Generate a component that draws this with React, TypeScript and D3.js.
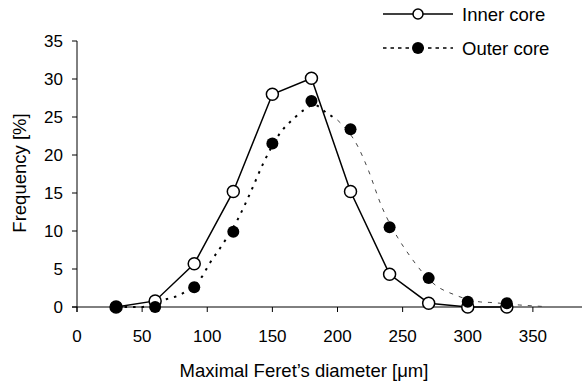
import React from "react";
import * as d3 from "d3";

const W = 582;
const H = 383;

const diameters = [30, 60, 90, 120, 150, 180, 210, 240, 270, 300, 330];
const innerCore = [0, 0.8, 5.7, 15.2, 28, 30.1, 15.2, 4.3, 0.5, 0, 0];
const outerCore = [0, 0, 2.6, 9.9, 21.5, 27.1, 23.4, 10.5, 3.8, 0.7, 0.5];

// fitted dotted curve for outer core
const fitX = [30, 48, 60, 69, 77, 85, 96, 101, 112, 123, 133, 143, 156, 167, 174, 182, 192, 200, 216, 223, 234, 246, 254, 275, 290, 310, 317, 340, 360];
const fitY = [0, 0, 0.4, 1.05, 1.45, 2.2, 4, 5.5, 8.3, 11.4, 15, 18.9, 22.9, 24.9, 25.9, 26.6, 25.5, 24.6, 21, 18.3, 13.2, 9.2, 7.1, 2.9, 1.6, 0.66, 0.6, 0.26, 0.05];

const xTicks = [0, 50, 100, 150, 200, 250, 300, 350];
const yTicks = [0, 5, 10, 15, 20, 25, 30, 35];

const FONT = "'Liberation Sans', Arial, sans-serif";

export default function App() {
  const x = d3.scaleLinear().domain([0, 400]).range([77, 598]);
  const y = d3.scaleLinear().domain([0, 35]).range([307, 41]);

  const inner = diameters.map((d, i) => [d, innerCore[i]] as [number, number]);
  const outer = diameters.map((d, i) => [d, outerCore[i]] as [number, number]);
  const fit = fitX.map((d, i) => [d, fitY[i]] as [number, number]);
  const splitIdx = fitX.indexOf(200);
  const fitLeft = fit.slice(0, splitIdx + 1);
  const fitRight = fit.slice(splitIdx);

  const line = d3
    .line<[number, number]>()
    .x((d) => x(d[0]))
    .y((d) => y(d[1]));
  const curve = d3
    .line<[number, number]>()
    .x((d) => x(d[0]))
    .y((d) => y(d[1]))
    .curve(d3.curveMonotoneX);

  return (
    <svg width={W} height={H} style={{ position: "absolute", left: 0, top: 0, background: "#fff" }}>
      <rect width={W} height={H} fill="#fff" />
      {/* axes */}
      <line x1={77} x2={77} y1={41} y2={312} stroke="#000" strokeWidth={1} />
      <line x1={72} x2={W} y1={y(0)} y2={y(0)} stroke="#000" strokeWidth={1} />
      {yTicks.map((t) => (
        <g key={"y" + t}>
          <line x1={72} x2={77} y1={y(t)} y2={y(t)} stroke="#000" />
          <text x={63} y={y(t)} dy="0.36em" textAnchor="end" fontFamily={FONT} fontSize={17} fill="#000">
            {t}
          </text>
        </g>
      ))}
      {xTicks.map((t) => (
        <g key={"x" + t}>
          <line x1={x(t)} x2={x(t)} y1={y(0)} y2={y(0) + 5} stroke="#000" />
          <text x={x(t)} y={342} textAnchor="middle" fontFamily={FONT} fontSize={17} fill="#000">
            {t}
          </text>
        </g>
      ))}
      <text x={304} y={377} textAnchor="middle" fontFamily={FONT} fontSize={18.5} fill="#000">
        Maximal Feret’s diameter [μm]
      </text>
      <text
        transform={`translate(26,173) rotate(-90)`}
        textAnchor="middle"
        fontFamily={FONT}
        fontSize={18.5}
        fill="#000"
      >
        Frequency [%]
      </text>

      {/* outer core fitted dotted curve */}
      <path d={curve(fitLeft) || ""} fill="none" stroke="#000" strokeWidth={2} strokeDasharray="2.5,6" />
      <path d={curve(fitRight) || ""} fill="none" stroke="#444" strokeWidth={1} strokeDasharray="4,6" />

      {/* inner core */}
      <path d={line(inner) || ""} fill="none" stroke="#000" strokeWidth={1.5} />
      {inner.map((p, i) => (
        <circle key={"i" + i} cx={x(p[0])} cy={y(p[1])} r={6} fill="#fff" stroke="#000" strokeWidth={1.5} />
      ))}
      {outer.map((p, i) => (
        <circle key={"o" + i} cx={x(p[0])} cy={y(p[1])} r={6} fill="#000" />
      ))}

      {/* legend */}
      <line x1={383} x2={453} y1={14} y2={14} stroke="#000" strokeWidth={1.5} />
      <circle cx={418} cy={14} r={5} fill="#fff" stroke="#000" strokeWidth={1.5} />
      <text x={462} y={14} dy="0.36em" fontFamily={FONT} fontSize={18.5} fill="#000">
        Inner core
      </text>
      <line x1={383} x2={453} y1={48} y2={48} stroke="#000" strokeWidth={1.5} strokeDasharray="3.5,4" />
      <circle cx={418} cy={48} r={6} fill="#000" />
      <text x={462} y={48} dy="0.36em" fontFamily={FONT} fontSize={18.5} fill="#000">
        Outer core
      </text>
    </svg>
  );
}
